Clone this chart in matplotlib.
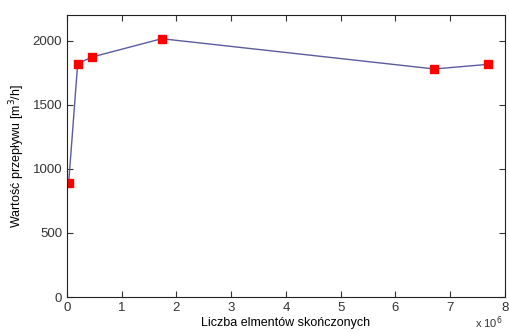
import matplotlib.pyplot as plt

plt.rcParams['font.family'] = ['Liberation Sans', 'DejaVu Sans']

# liczba elementow (x 10^6) i wartosc przeplywu [m3/h]
elementy = [0.03, 0.195, 0.457, 1.73, 6.71, 7.69]
przeplyw = [888, 1820, 1872, 2015, 1779, 1815]

fig = plt.figure(figsize=(5.10, 3.33), dpi=100)
ax = fig.add_axes([67/510, 36/333, 438/510, 282/333])

ax.plot(elementy, przeplyw, color='#5b5b9f', lw=1.0, marker='s',
        markersize=6.2, markerfacecolor='red', markeredgecolor='red')

ax.set_xlim(0, 8)
ax.set_ylim(0, 2200)
ax.set_xticks(range(0, 9))
ax.set_yticks([0, 500, 1000, 1500, 2000])
ax.tick_params(direction='in', top=True, right=True, labelsize=9.5,
               colors='#333333', length=4)
for s in ax.spines.values():
    s.set_color('#222222')

ax.set_xlabel('Liczba elmentów skończonych', fontsize=9, labelpad=2)
ax.set_ylabel('Wartość przepływu [m$^3$/h]', fontsize=9, labelpad=4)
ax.text(0.995, -0.06, r'x 10$^6$', transform=ax.transAxes, fontsize=8,
        ha='right', va='top', color='#333333')

fig.savefig('out.png', dpi=100)
